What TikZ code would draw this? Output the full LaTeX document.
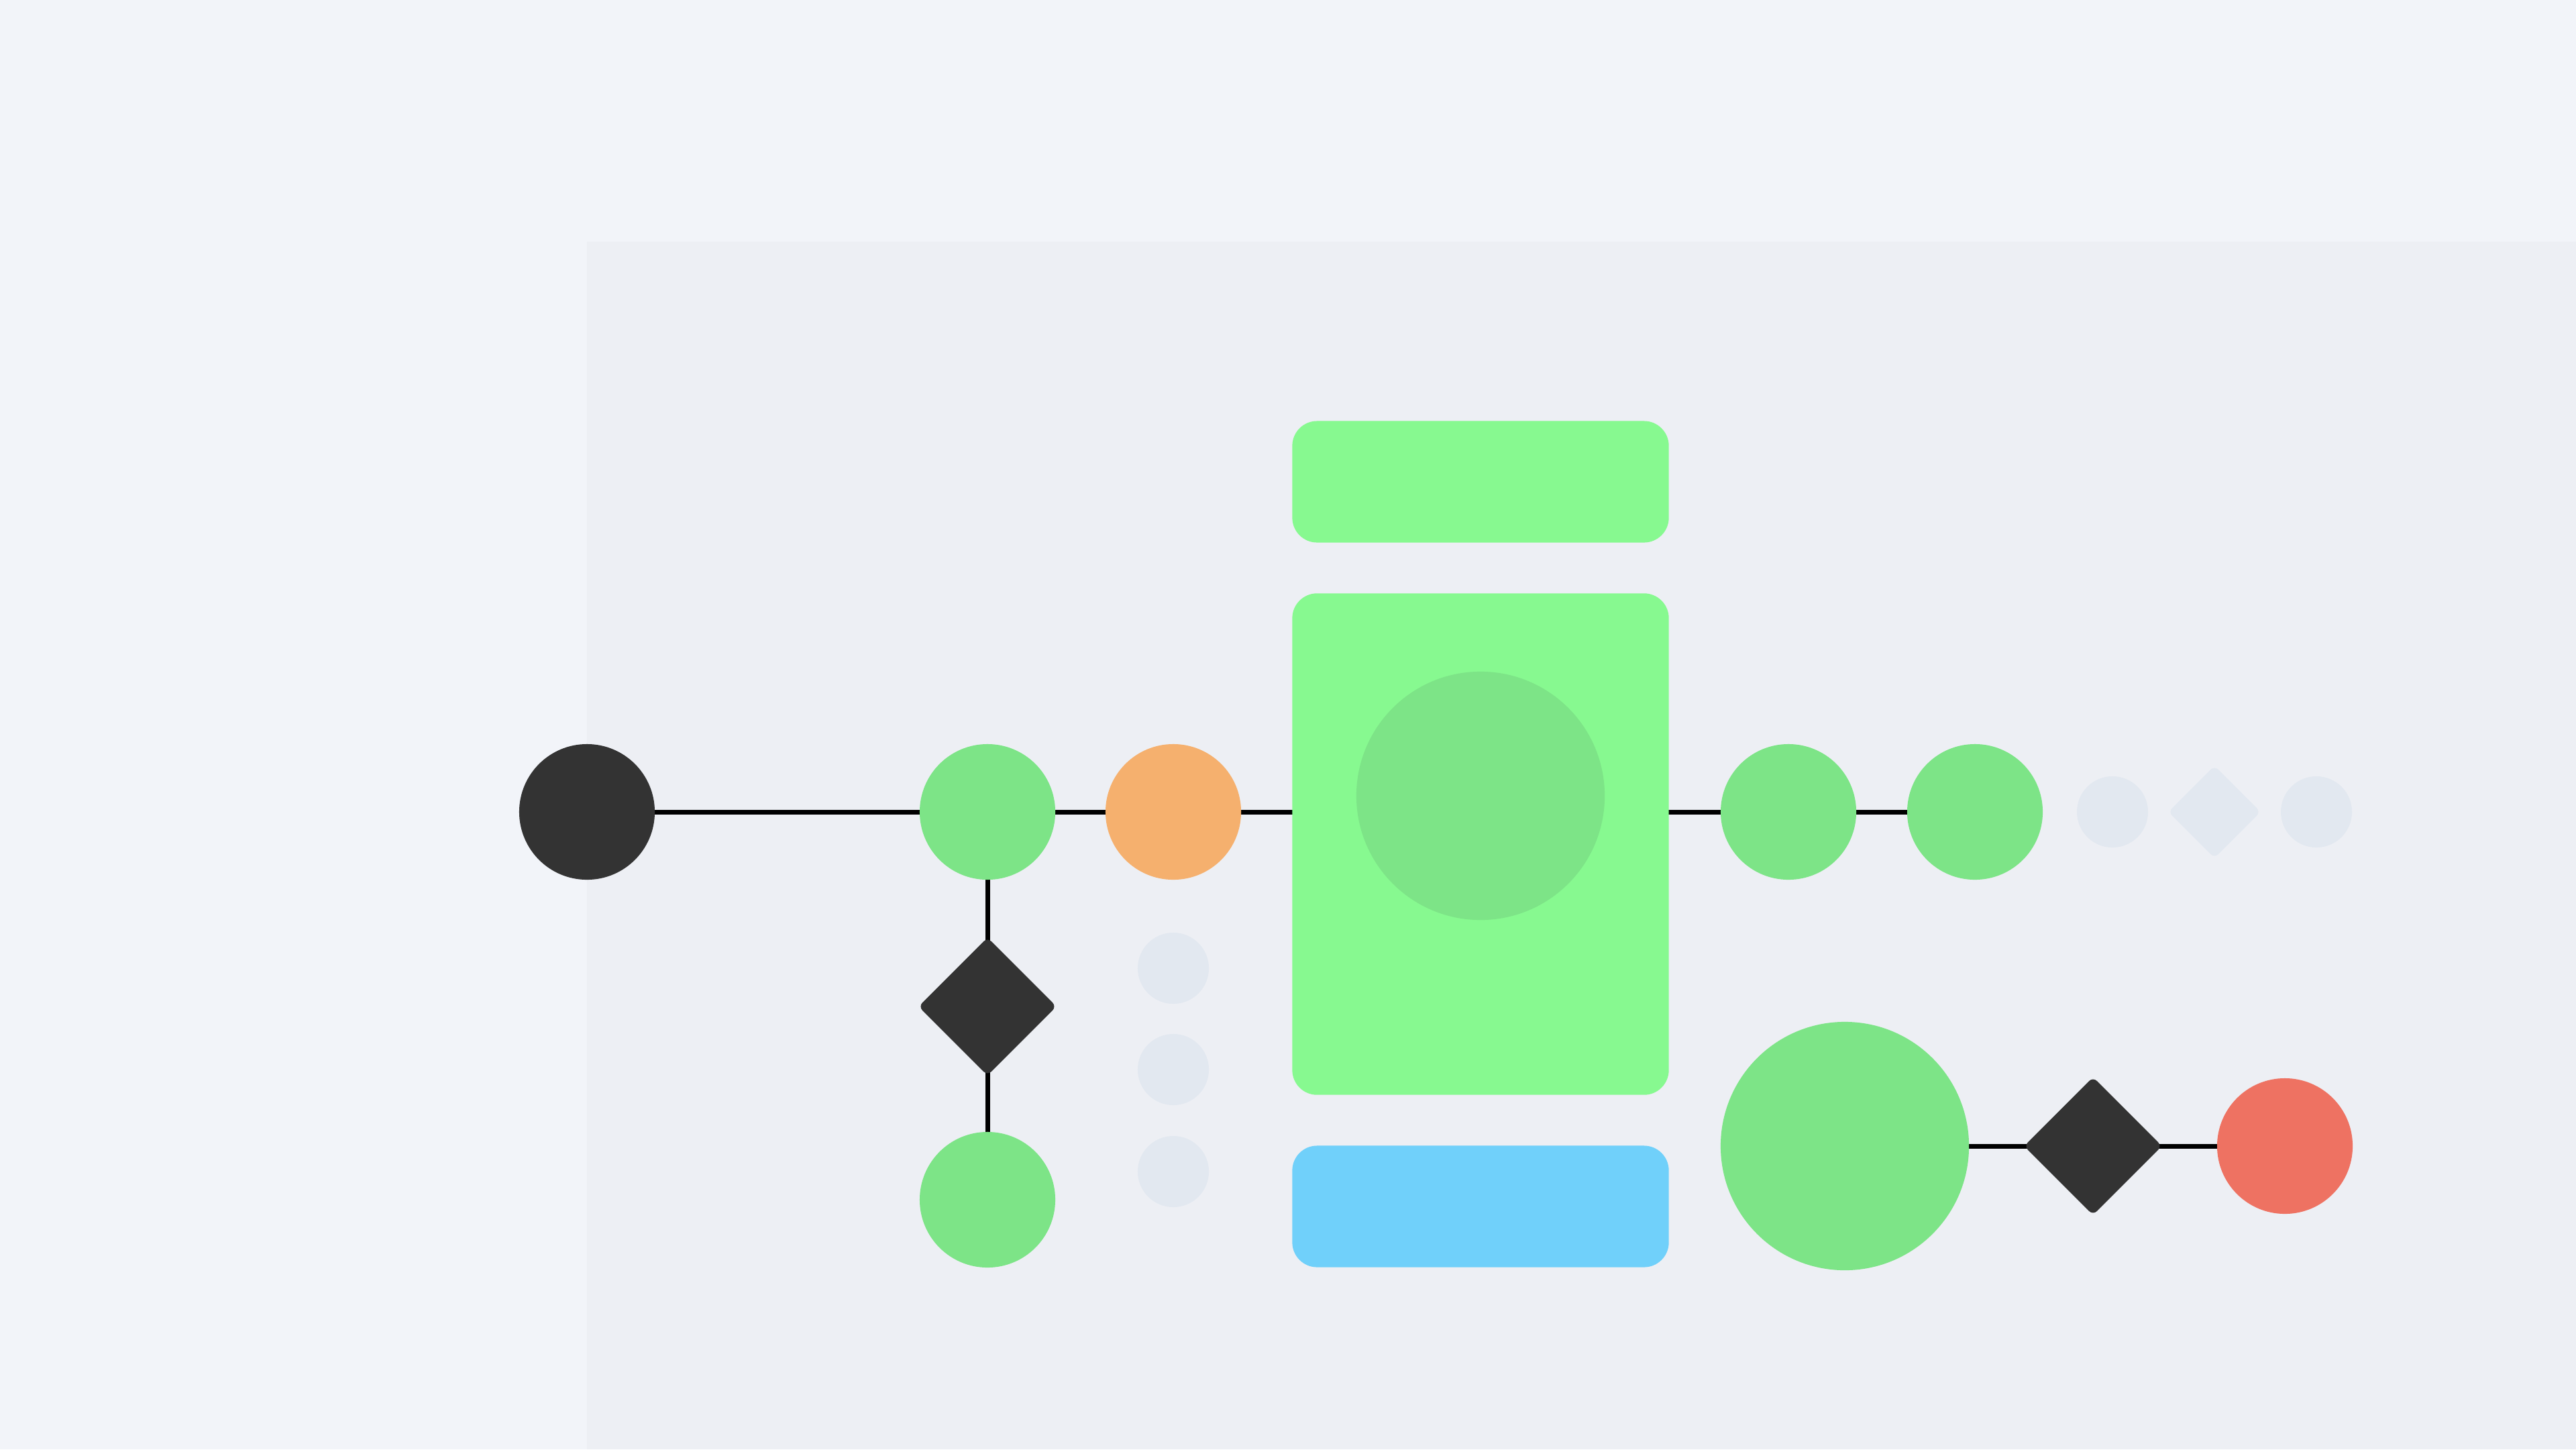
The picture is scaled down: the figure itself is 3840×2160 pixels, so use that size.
\documentclass[tikz,border=0pt]{standalone}
\usetikzlibrary{shapes.geometric}
\definecolor{bgout}{HTML}{F2F4F9}
\definecolor{panelc}{HTML}{EDEFF4}
\definecolor{darkc}{HTML}{333333}
\definecolor{greenc}{HTML}{7DE487}
\definecolor{rectgreen}{HTML}{87F990}
\definecolor{bluec}{HTML}{70D0FA}
\definecolor{orangec}{HTML}{F5B06E}
\definecolor{redc}{HTML}{EE7262}
\definecolor{lightc}{HTML}{E2E8F0}
\pgfdeclarelayer{bgzero}
\pgfdeclarelayer{wires}
\pgfsetlayers{bgzero,wires,main}
\tikzset{
  dot/.style={circle, inner sep=0pt, draw=none, minimum size=2.02cm},
  bigdot/.style={circle, inner sep=0pt, draw=none, minimum size=3.70cm},
  smalldot/.style={circle, inner sep=0pt, draw=none, fill=lightc, minimum size=1.06cm},
  gate/.style={diamond, aspect=1, inner sep=0pt, draw=none, rounded corners=0.08cm, minimum width=2.06cm, minimum height=2.06cm},
  card/.style={rectangle, inner sep=0pt, draw=none, rounded corners=0.37cm, minimum width=5.61cm},
  wire/.style={line width=0.07cm, black}
}
\begin{document}
\begin{tikzpicture}[x=0.01cm,y=-0.01cm]
\useasboundingbox (0,0) rectangle (3840,2160);
\begin{pgfonlayer}{bgzero}
\fill[bgout] (0,0) rectangle (3840,2160);
\fill[panelc] (875,360) rectangle (3840,2160);
\end{pgfonlayer}
% nodes
\node[dot, fill=darkc] (start) at (875,1210) {};
\node[dot, fill=greenc] (g1) at (1472,1210) {};
\node[dot, fill=orangec] (orange) at (1749,1210) {};
\node[gate, fill=darkc] (d1) at (1472,1500) {};
\node[dot, fill=greenc] (g2) at (1472,1788) {};
\node[smalldot] (l1) at (1749,1443) {};
\node[smalldot] (l2) at (1749,1594) {};
\node[smalldot] (l3) at (1749,1746) {};
\node[card, fill=rectgreen, minimum height=1.81cm] (top) at (2207,718) {};
\node[card, fill=rectgreen, minimum height=7.47cm] (main) at (2207,1258) {};
\node[bigdot, fill=greenc] (inner) at (2207,1186) {};
\node[card, fill=bluec, minimum height=1.81cm] (bottom) at (2207,1798) {};
\node[dot, fill=greenc] (g3) at (2666,1210) {};
\node[dot, fill=greenc] (g4) at (2944,1210) {};
\node[smalldot] (l4) at (3149,1210) {};
\node[gate, fill=lightc, minimum width=1.38cm, minimum height=1.38cm] (ld) at (3301,1210) {};
\node[smalldot] (l5) at (3453,1210) {};
\node[bigdot, fill=greenc] (big) at (2750,1708) {};
\node[gate, fill=darkc] (d2) at (3120,1708) {};
\node[dot, fill=redc] (red) at (3406,1708) {};
% wires
\begin{pgfonlayer}{wires}
\draw[wire] (start.center) -- (g1.center);
\draw[wire] (g1.center) -- (orange.center);
\draw[wire] (orange.center) -- (orange.center -| main.center);
\draw[wire] (main.center |- g3.center) -- (g3.center);
\draw[wire] (g3.center) -- (g4.center);
\draw[wire] (g1.center) -- (d1.center);
\draw[wire] (d1.center) -- (g2.center);
\draw[wire] (big.center) -- (d2.center);
\draw[wire] (d2.center) -- (red.center);
\end{pgfonlayer}
\end{tikzpicture}
\end{document}
